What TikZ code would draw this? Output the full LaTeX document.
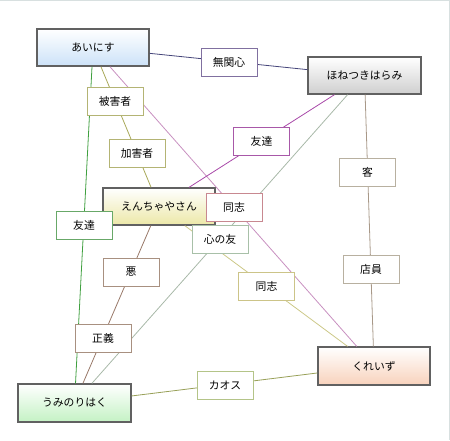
\documentclass[tikz,border=0pt]{standalone}
\usepackage{fontspec}
\setmainfont{Noto Sans CJK JP}
\begin{document}
\begin{tikzpicture}[x=1pt,y=-1pt,
  mainbox/.style={draw=black!62,line width=1.3pt,minimum width=112pt,minimum height=37pt,inner sep=0pt,font=\fontsize{10.8}{12}\selectfont},
  lbl/.style={draw,fill=white,line width=0.9pt,minimum width=56pt,minimum height=28pt,inner sep=0pt,font=\fontsize{10.8}{12}\selectfont},
  conn/.style={line width=0.8pt}]
\useasboundingbox (0,0) rectangle (450,440);
\definecolor{cNavy}{HTML}{45457A}
\definecolor{cOlive}{HTML}{A8A858}
\definecolor{cGreen}{HTML}{40A040}
\definecolor{cPink}{HTML}{C890C0}
\definecolor{cPurple}{HTML}{A848A8}
\definecolor{cGrayGreen}{HTML}{A8B8A8}
\definecolor{cTaupe}{HTML}{A89888}
\definecolor{cBrown}{HTML}{987868}
\definecolor{cYellow}{HTML}{CCC888}
\definecolor{cOliveG}{HTML}{98A058}
\definecolor{bMukan}{HTML}{8070A0}
\definecolor{bOlive}{HTML}{B4B474}
\definecolor{bGreen}{HTML}{68A868}
\definecolor{bPink}{HTML}{C88890}
\definecolor{bPurple}{HTML}{A858A8}
\definecolor{bGrayGreen}{HTML}{A8C0A8}
\definecolor{bTaupe}{HTML}{B8B0A0}
\definecolor{bBrown}{HTML}{A89080}
\definecolor{bYellow}{HTML}{CCC488}
\definecolor{bOliveG}{HTML}{B4C488}
\definecolor{frameC}{HTML}{D8E0E0}
\definecolor{gBlue}{HTML}{CCE2F8}
\definecolor{gGray}{HTML}{CFCFCF}
\definecolor{gYellow}{HTML}{ECE8A8}
\definecolor{gGreen}{HTML}{C4F2C4}
\definecolor{gPeach}{HTML}{F8D2BC}
\draw[frameC,line width=1pt] (0,0.5) -- (449,0.5) -- (449,440);
% main nodes
\node[mainbox,top color=white,bottom color=gBlue] (aini) at (93,47.5) {あいにす};
\node[mainbox,top color=white,bottom color=gGray,minimum width=113pt] (hone) at (364.5,75.5) {ほねつきはらみ};
\node[mainbox,top color=white,bottom color=gYellow] (encha) at (159,206.5) {えんちゃやさん};
\node[mainbox,top color=white,bottom color=gGreen,minimum width=113pt,minimum height=38pt] (umi) at (74.5,403) {うみのりはく};
\node[mainbox,top color=white,bottom color=gPeach,minimum height=38pt] (kurei) at (374,366) {くれいず};
% connectors
\draw[conn,cNavy] (aini) -- (hone);
\draw[conn,cOlive] (aini) -- (encha);
\draw[conn,cGreen] (aini) -- (umi);
\draw[conn,cPink] (aini) -- (kurei);
\draw[conn,cPurple] (hone) -- (encha);
\draw[conn,cGrayGreen] (hone) -- (umi);
\draw[conn,cTaupe] (hone) -- (kurei);
\draw[conn,cBrown] (encha) -- (umi);
\draw[conn,cYellow] (encha) -- (kurei);
\draw[conn,cOliveG] (umi) -- (kurei);
% labels
\node[lbl,draw=bMukan] (mukan) at (229,62) {無関心};
\node[lbl,draw=bOlive] (hi) at (115,101) {被害者};
\node[lbl,draw=bOlive] (ka) at (137,153) {加害者};
\node[lbl,draw=bGreen] (tomo1) at (84,225) {友達};
\node[lbl,draw=bPurple] (tomo2) at (261.5,141) {友達};
\node[lbl,draw=bPink] (doushi1) at (234,207) {同志};
\node[lbl,draw=bGrayGreen] (kokoro) at (220,239.5) {心の友};
\node[lbl,draw=bTaupe] (kyaku) at (367.5,172) {客};
\node[lbl,draw=bTaupe] (ten) at (371,269.5) {店員};
\node[lbl,draw=bBrown] (aku) at (131,272) {悪};
\node[lbl,draw=bBrown] (seigi) at (103,338) {正義};
\node[lbl,draw=bYellow] (doushi2) at (266.5,286) {同志};
\node[lbl,draw=bOliveG] (kaos) at (225,385) {カオス};
\end{tikzpicture}
\end{document}
